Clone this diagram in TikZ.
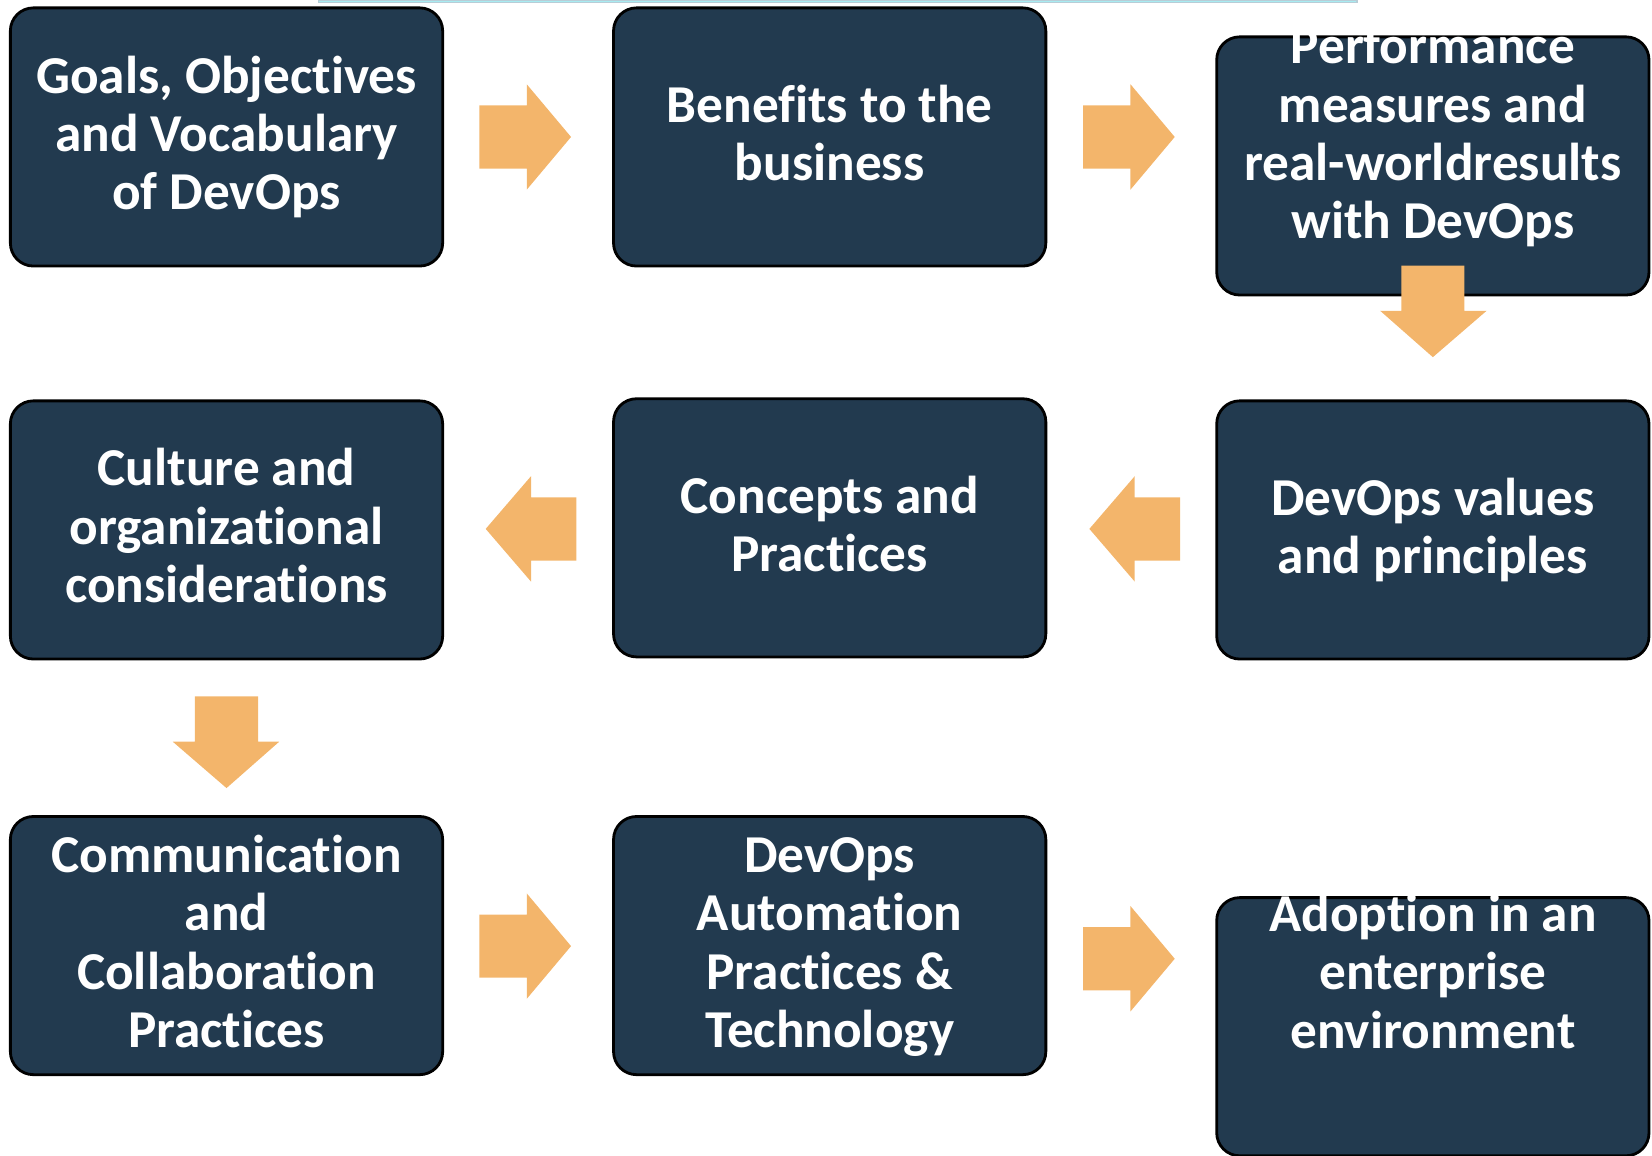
\documentclass[tikz,border=0pt]{standalone}
\usepackage{fontspec}
\setmainfont{Carlito}[Ligatures=NoCommon]
\definecolor{boxnavy}{HTML}{223A4F}
\definecolor{arroworange}{HTML}{F3B56B}
\definecolor{topcyan}{HTML}{A8ECF2}
\tikzset{
	stagebox/.style={rectangle, rounded corners=0.23cm, fill=boxnavy, draw=black, line width=0.8pt,
		minimum width=4.32cm, minimum height=2.58cm, inner sep=0pt},
	stagetext/.style={text=white, align=center, font=\bfseries\fontsize{15.15}{16.6}\selectfont},
	blockarrow/.style={fill=arroworange}
}
\begin{document}
\begin{tikzpicture}[x=0.010536cm, y=-0.010536cm]

		\useasboundingbox (0, 0) rectangle (1568, 1097.2);
		\draw[cyan!30!gray!50, fill=topcyan, line width=0.3pt](302, 0) rectangle (1288, 2);

		\node[stagebox] (goals) at(215, 130){};
			\node[stagetext] (goalstext) at(215, 130){Goals, Objectives\\and Vocabulary\\of DevOps};
		\node[stagebox] (benefits) at(787.5, 130){};
			\node[stagetext] (benefitstext) at(787.5, 126.5){Benefits to the\\business};
		\node[stagebox] (perf) at(1360, 157.5){};
			\node[stagetext] (perftext) at(1360, 130){Performance\\measures and\\real-worldresults\\with DevOps};

		\node[stagebox] (culture) at(215, 503){};
			\node[stagetext] (culturetext) at(215, 499){Culture and\\organizational\\considerations};
		\node[stagebox] (concepts) at(787.5, 501){};
			\node[stagetext] (conceptstext) at(787.5, 497.5){Concepts and\\Practices};
		\node[stagebox] (values) at(1360, 503){};
			\node[stagetext] (valuestext) at(1360, 503){DevOps values\\and principles};

		\node[stagebox] (comm) at(215, 897.5){};
			\node[stagetext] (commtext) at(215, 893.5){Communication\\and\\Collaboration\\Practices};
		\node[stagebox] (auto) at(787.5, 897.5){};
			\node[stagetext] (autotext) at(787.5, 899){DevOps\\Automation\\Practices \&\\Technology};
		\node[stagebox] (adopt) at(1360, 974.5){};
			\node[stagetext] (adopttext) at(1360, 922){Adoption in an\\enterprise\\environment};

		\fill[blockarrow](455, 100) -- (500, 100) -- (500, 80) -- (542, 130) -- (500, 180) -- (500, 160) -- (455, 160) -- cycle;
		\fill[blockarrow](1028, 100) -- (1073, 100) -- (1073, 80) -- (1115, 130) -- (1073, 180) -- (1073, 160) -- (1028, 160) -- cycle;
		\fill[blockarrow](1330, 252) -- (1390, 252) -- (1390, 295) -- (1411, 295) -- (1360, 339) -- (1310, 295) -- (1330, 295) -- cycle;

		\fill[blockarrow](1120, 472) -- (1077, 472) -- (1077, 452) -- (1034, 502) -- (1077, 552) -- (1077, 532) -- (1120, 532) -- cycle;
		\fill[blockarrow](547, 472) -- (504, 472) -- (504, 452) -- (461, 502) -- (504, 552) -- (504, 532) -- (547, 532) -- cycle;
		\fill[blockarrow](185, 661) -- (245, 661) -- (245, 704) -- (265, 704) -- (215, 748) -- (164, 704) -- (185, 704) -- cycle;

		\fill[blockarrow](455, 868) -- (500, 868) -- (500, 848) -- (542, 898) -- (500, 948) -- (500, 928) -- (455, 928) -- cycle;
		\fill[blockarrow](1028, 880) -- (1073, 880) -- (1073, 860) -- (1115, 910) -- (1073, 960) -- (1073, 940) -- (1028, 940) -- cycle;

	\end{tikzpicture}
\end{document}
